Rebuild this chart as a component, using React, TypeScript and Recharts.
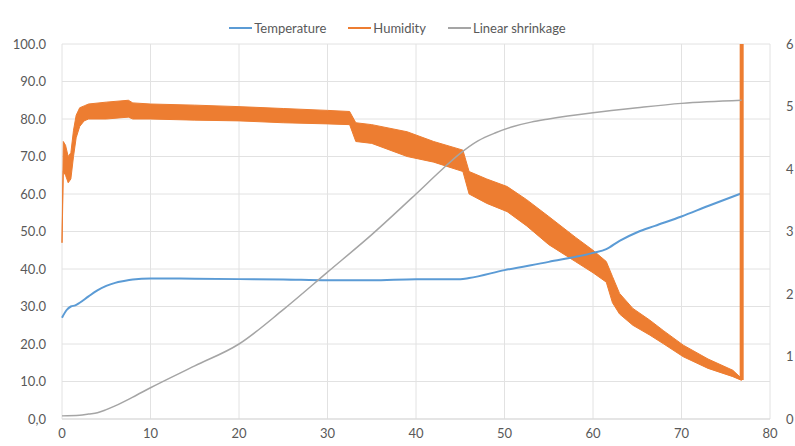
import React from "react"
import {
    ComposedChart, Line, Area, XAxis, YAxis, CartesianGrid, Legend,
} from "recharts"

// x = time, shared numeric axis 0..80
const xTicks = [0, 10, 20, 30, 40, 50, 60, 70, 80]
const leftTicks = [0, 10, 20, 30, 40, 50, 60, 70, 80, 90, 100]
const rightTicks = [0, 1, 2, 3, 4, 5, 6]

const tempX = [0, 0.5, 1, 1.5, 2, 3, 4, 5, 6, 7, 8, 10, 15, 20, 25, 30, 35, 40, 45, 46, 50, 55, 60, 61.5, 63, 65, 67, 70, 73, 76.8]
const temperature = [27, 29, 30, 30.3, 31, 32.7, 34.3, 35.5, 36.3, 36.8, 37.2, 37.5, 37.4, 37.3, 37.2, 37, 37, 37.3, 37.3, 37.6, 39.7, 41.9, 44.3, 45.3, 47.5, 49.8, 51.5, 54, 56.8, 60.2]

// humidity is a noisy signal: kept as low / high envelope of the band
const humX = [0, 0.15, 0.4, 0.7, 1.0, 1.3, 1.6, 2, 2.5, 3, 5, 7.5, 8, 10, 15, 20, 25, 30, 32.5, 33.2, 35, 39, 42, 45.3, 46, 48, 50.3, 52.5, 55, 58, 60, 61.5, 62.2, 63, 64.5, 66.4, 68, 70.2, 73, 75.8, 76.8]
const humidityLow = [47, 66, 65, 63, 64, 70, 75, 78, 79.5, 80, 80, 80.5, 80, 80, 79.7, 79.5, 79, 78.7, 78.5, 74, 73.5, 70, 68.5, 66, 60, 57.5, 55.3, 51.5, 46.5, 42, 39, 36.5, 31, 28, 25, 22.4, 20, 16.6, 13.5, 11.3, 10.3]
const humidityHigh = [47, 74, 73, 70, 71, 77, 81, 83, 83.5, 84, 84.5, 85, 84.3, 84, 83.7, 83.3, 82.8, 82.3, 82, 79, 78.5, 76.6, 74, 71.7, 66, 64, 62, 58.5, 54, 48.5, 45, 42, 38, 33.5, 29.5, 26.4, 23.5, 19.7, 16, 13, 10.8]
const spikeX = [76.8, 76.8]
const spikeHumidity = [10.4, 100]

const shrinkX = [0, 2, 3, 4, 5, 6, 8, 10, 15, 20, 25, 30, 35, 40, 43, 45, 47, 49, 51, 53, 55, 60, 65, 70, 76.8]
const shrinkage = [0.05, 0.06, 0.08, 0.1, 0.15, 0.21, 0.35, 0.5, 0.85, 1.2, 1.75, 2.35, 2.95, 3.6, 4.0, 4.25, 4.45, 4.58, 4.68, 4.75, 4.8, 4.9, 4.98, 5.05, 5.1]

const BLUE = "#5B9BD5"
const ORANGE = "#ED7D31"
const GREY = "#A5A5A5"
const TEXT = "#595959"
const FONT = "Lato, 'Open Sans', sans-serif"

const legendItems = [
    { name: "Temperature", color: BLUE },
    { name: "Humidity", color: ORANGE },
    { name: "Linear shrinkage", color: GREY },
]

const tempData = tempX.map((x, i) => ({ x, v: temperature[i] }))
const humData = humX.map((x, i) => ({ x, band: [humidityLow[i], humidityHigh[i]] }))
const spikeData = spikeX.map((x, i) => ({ x, v: spikeHumidity[i] }))
const shrinkData = shrinkX.map((x, i) => ({ x, v: shrinkage[i] }))

function ChartLegend() {
    return (
        <div style={{ display: "flex", justifyContent: "center", gap: 22, fontFamily: FONT, fontSize: 13, color: TEXT }}>
            {legendItems.map((it) => (
                <div key={it.name} style={{ display: "flex", alignItems: "center" }}>
                    <span style={{ display: "inline-block", width: 23, height: 2, background: it.color, marginRight: 2 }} />
                    {it.name}
                </div>
            ))}
        </div>
    )
}

export default function App() {
    const tick = { fontSize: 13, fill: TEXT, fontFamily: FONT }
    return (
        <div style={{ position: "absolute", left: 0, top: 0, background: "#fff" }}>
            <ComposedChart width={795} height={446} margin={{ top: 20, right: 0, bottom: 0, left: 0 }}>
                <CartesianGrid yAxisId="left" stroke="#E2E2E2" strokeDasharray="" />
                <Legend verticalAlign="top" height={24} content={() => <ChartLegend />} />
                <XAxis
                    dataKey="x" type="number" domain={[0, 80]} ticks={xTicks}
                    allowDuplicatedCategory={false} height={27}
                    tickLine={false} axisLine={{ stroke: "#D9D9D9" }} tick={tick} tickMargin={4}
                />
                <YAxis
                    yAxisId="left" domain={[0, 100]} ticks={leftTicks} width={62}
                    tickLine={false} axisLine={false} tick={tick} tickMargin={10}
                    tickFormatter={(v: number) => (v === 0 ? "0,0" : v.toFixed(1))}
                />
                <YAxis
                    yAxisId="right" orientation="right" domain={[0, 6]} ticks={rightTicks} width={25}
                    tickLine={false} axisLine={false} tick={{ ...tick, textAnchor: "start" }} tickMargin={10}
                />
                <Line
                    yAxisId="left" data={tempData} dataKey="v" name="Temperature" type="monotone"
                    stroke={BLUE} strokeWidth={2} dot={false} isAnimationActive={false}
                />
                <Area
                    yAxisId="left" data={humData} dataKey="band" name="Humidity" type="linear"
                    stroke={ORANGE} strokeWidth={1} fill={ORANGE} fillOpacity={1} isAnimationActive={false}
                />
                <Line
                    yAxisId="left" data={spikeData} dataKey="v" legendType="none" type="linear"
                    stroke={ORANGE} strokeWidth={4} dot={false} isAnimationActive={false}
                />
                <Line
                    yAxisId="right" data={shrinkData} dataKey="v" name="Linear shrinkage" type="monotone"
                    stroke={GREY} strokeWidth={1.5} dot={false} isAnimationActive={false}
                />
            </ComposedChart>
        </div>
    )
}
